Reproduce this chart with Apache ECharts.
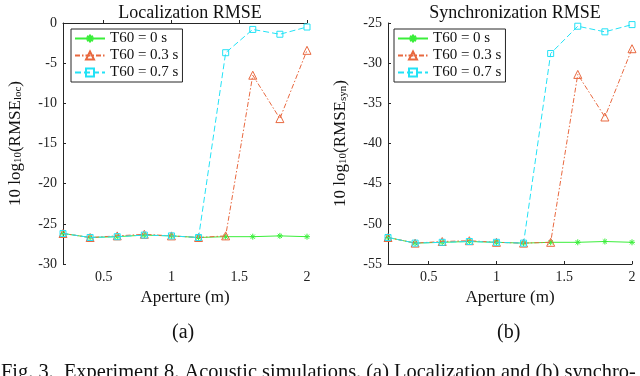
<!DOCTYPE html>
<html>
<head>
<meta charset="utf-8">
<script src="https://cdn.jsdelivr.net/npm/echarts@6/dist/echarts.min.js"></script>
<style>
  html, body { margin: 0; padding: 0; background: #fff; }
  #main { width: 640px; height: 376px; }
</style>
</head>
<body>
<div id="main"></div>
<script>
// aperture values (m)
var aperture = [0.2, 0.4, 0.6, 0.8, 1.0, 1.2, 1.4, 1.6, 1.8, 2.0];

// localization RMSE, 10 log10
var locT0  = [-26.2, -26.7, -26.6, -26.4, -26.5, -26.7, -26.6, -26.6, -26.5, -26.6];
var locT03 = [-26.2, -26.7, -26.5, -26.3, -26.5, -26.7, -26.5, -6.5, -11.9, -3.4];
var locT07 = [-26.2, -26.7, -26.6, -26.4, -26.5, -26.7, -3.7, -0.8, -1.4, -0.5];

// synchronization RMSE, 10 log10
var synT0  = [-51.7, -52.4, -52.3, -52.2, -52.3, -52.4, -52.3, -52.3, -52.2, -52.3];
var synT03 = [-51.7, -52.4, -52.2, -52.1, -52.3, -52.4, -52.3, -31.4, -36.7, -28.2];
var synT07 = [-51.7, -52.4, -52.3, -52.2, -52.3, -52.4, -28.8, -25.4, -26.1, -25.2];

var xTicks = [0.5, 1, 1.5, 2];
var names = ['T60 = 0 s', 'T60 = 0.3 s', 'T60 = 0.7 s'];

var green = '#3aee3a', orange = '#e8683f', cyan = '#22e2f6';
var serif = 'Liberation Serif';
var axisCol = '#262626';
var asterisk = 'path://M0,5L10,5M5,0L5,10M1.5,1.5L8.5,8.5M8.5,1.5L1.5,8.5';

function pairs(vals) {
  return aperture.map(function (x, i) { return [x, vals[i]]; });
}

function mkSeries(idx, t0, t03, t07) {
  return [
    {
      name: names[0], type: 'line', xAxisIndex: idx, yAxisIndex: idx,
      data: pairs(t0), symbol: asterisk, symbolSize: 6,
      lineStyle: { color: green, width: 1 },
      itemStyle: { color: green, borderColor: green, borderWidth: 1 },
      z: 2
    },
    {
      name: names[1], type: 'line', xAxisIndex: idx, yAxisIndex: idx,
      data: pairs(t03), symbol: 'triangle', symbolSize: 8,
      lineStyle: { color: orange, width: 1, type: [5, 2, 1.5, 2] },
      itemStyle: { color: 'rgba(255,255,255,0)', borderColor: orange, borderWidth: 1 },
      z: 3
    },
    {
      name: names[2], type: 'line', xAxisIndex: idx, yAxisIndex: idx,
      data: pairs(t07), symbol: 'rect', symbolSize: 6,
      lineStyle: { color: cyan, width: 1, type: [6, 3] },
      itemStyle: { color: 'rgba(255,255,255,0)', borderColor: cyan, borderWidth: 1 },
      z: 4
    }
  ];
}

function mkX(idx) {
  return {
    type: 'value', gridIndex: idx, min: 0.2, max: 2,
    name: 'Aperture (m)', nameLocation: 'middle', nameGap: 25,
    nameTextStyle: { fontFamily: serif, fontSize: 17, color: '#111' },
    axisLine: { lineStyle: { color: axisCol, width: 1 } },
    axisTick: { inside: true, length: 3, customValues: xTicks, lineStyle: { color: axisCol } },
    axisLabel: { customValues: xTicks, fontFamily: serif, fontSize: 14, color: '#222', margin: 6 },
    splitLine: { show: false }
  };
}

function mkY(idx, min, max, sub) {
  return {
    type: 'value', gridIndex: idx, min: min, max: max, interval: 5,
    name: '{a|10 log}{s|10}{a|(RMSE}{s|' + sub + '}{a|)}',
    nameLocation: 'middle', nameGap: 39, nameRotate: 90,
    nameTextStyle: {
      rich: {
        a: { fontFamily: serif, fontSize: 17, color: '#111', verticalAlign: 'bottom', lineHeight: 20 },
        s: { fontFamily: serif, fontSize: 11, color: '#111', verticalAlign: 'bottom', lineHeight: 15 }
      }
    },
    axisLine: { show: true, lineStyle: { color: axisCol, width: 1 } },
    axisTick: { show: true, inside: true, length: 3, lineStyle: { color: axisCol } },
    axisLabel: { fontFamily: serif, fontSize: 14, color: '#222', margin: 6 },
    splitLine: { show: false }
  };
}

function mkLegend(left) {
  return {
    data: names, orient: 'vertical', left: left, top: 29,
    itemWidth: 30, itemHeight: 10, itemGap: 2,
    padding: [2, 4, 2, 3],
    backgroundColor: '#fff', borderColor: axisCol, borderWidth: 1,
    textStyle: { fontFamily: serif, fontSize: 15, color: '#111' },
    selectedMode: false
  };
}

var chart = echarts.init(document.getElementById('main'), null, { renderer: 'canvas' });
chart.setOption({
  animation: false,
  title: [
    { text: 'Localization RMSE', left: 185, top: -1, textAlign: 'center',
      textStyle: { fontFamily: serif, fontSize: 18, fontWeight: 'normal', color: '#111' } },
    { text: 'Synchronization RMSE', left: 510, top: -1, textAlign: 'center',
      textStyle: { fontFamily: serif, fontSize: 18, fontWeight: 'normal', color: '#111' } }
  ],
  grid: [
    { left: 63, top: 23, width: 244, height: 241 },
    { left: 388, top: 23, width: 244, height: 241 }
  ],
  legend: [mkLegend(71), mkLegend(394)],
  xAxis: [mkX(0), mkX(1)],
  yAxis: [mkY(0, -30, 0, 'loc'), mkY(1, -55, -25, 'syn')],
  series: mkSeries(0, locT0, locT03, locT07).concat(mkSeries(1, synT0, synT03, synT07)),
  graphic: [
    { type: 'text', left: 172, top: 323, style: { text: '(a)', font: '20px "Liberation Serif"', fill: '#111' } },
    { type: 'text', left: 497, top: 323, style: { text: '(b)', font: '20px "Liberation Serif"', fill: '#111' } },
    { type: 'text', left: 1, top: 363,
      style: { text: 'Fig. 3.  Experiment 8. Acoustic simulations. (a) Localization and (b) synchro-',
               font: '20.4px "Liberation Serif"', fill: '#111' } }
  ]
});
</script>
</body>
</html>
